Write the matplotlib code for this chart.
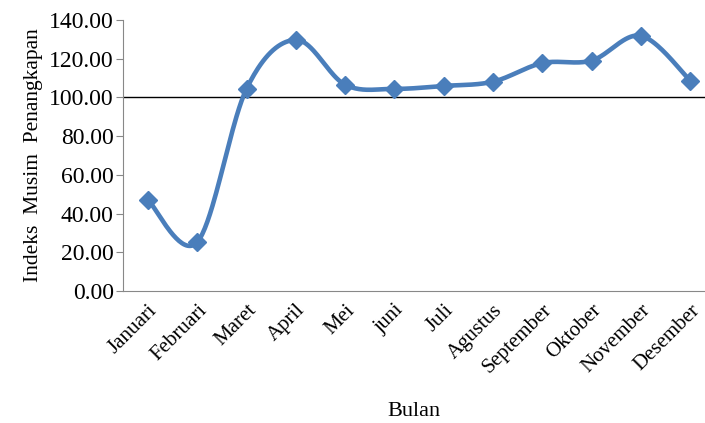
from matplotlib import pyplot as plt
import numpy as np

plt.rcParams['font.family'] = ['Liberation Serif', 'DejaVu Serif']

bulan = ['Januari', 'Februari', 'Maret', 'April', 'Mei', 'juni', 'Juli',
         'Agustus', 'September', 'Oktober', 'November', 'Desember']
indeks = [47.0, 25.3, 104.5, 129.7, 106.5, 104.4, 105.9, 108.1, 117.7, 119.0, 131.8, 108.7]
y_ticks = [0, 20, 40, 60, 80, 100, 120, 140]


def excel_smooth(xs, ys, n=40):
    # cubic bezier through the points, like Excel's "smoothed line"
    xs = np.asarray(xs, float)
    ys = np.asarray(ys, float)
    px = np.concatenate([[xs[0]], xs, [xs[-1]]])
    py = np.concatenate([[ys[0]], ys, [ys[-1]]])
    out_x, out_y = [], []
    t = np.linspace(0, 1, n)
    for i in range(1, len(px) - 2):
        p0 = np.array([px[i], py[i]])
        p3 = np.array([px[i + 1], py[i + 1]])
        p1 = p0 + (np.array([px[i + 1], py[i + 1]]) - np.array([px[i - 1], py[i - 1]])) / 6
        p2 = p3 - (np.array([px[i + 2], py[i + 2]]) - np.array([px[i], py[i]])) / 6
        b = ((1 - t) ** 3)[:, None] * p0 + (3 * (1 - t) ** 2 * t)[:, None] * p1 \
            + (3 * (1 - t) * t ** 2)[:, None] * p2 + (t ** 3)[:, None] * p3
        out_x.extend(b[:, 0])
        out_y.extend(b[:, 1])
    return out_x, out_y


x = np.arange(len(bulan))
sx, sy = excel_smooth(x, indeks)

fig = plt.figure(figsize=(7.05, 4.23), dpi=100)
ax = fig.add_axes([0.175, 0.312, 0.825, 0.641])

ax.axhline(100, color='black', linewidth=1.0, zorder=1)
ax.plot(sx, sy, color='#4A7EBB', linewidth=3.3, zorder=2)
ax.plot(x, indeks, linestyle='none', marker='D', markersize=9.5,
        color='#4A7EBB', zorder=3)

ax.set_xlim(-0.5, 11.3)
ax.set_ylim(0, 140)
ax.set_yticks(y_ticks)
ax.set_yticklabels(['%.2f' % v for v in y_ticks], fontsize=17)
ax.set_xticks(x)
ax.set_xticklabels(bulan, rotation=45, ha='right', rotation_mode='anchor', fontsize=15)

for s in ['top', 'right']:
    ax.spines[s].set_visible(False)
for s in ['left', 'bottom']:
    ax.spines[s].set_color('#888888')
ax.tick_params(axis='y', length=5, color='#888888', pad=2)
ax.tick_params(axis='x', length=0, pad=7)

ax.set_ylabel('Indeks  Musim  Penangkapan', fontsize=15.5, labelpad=4)
ax.set_xlabel('Bulan', fontsize=16, labelpad=18)

fig.savefig('out.png', dpi=100)
